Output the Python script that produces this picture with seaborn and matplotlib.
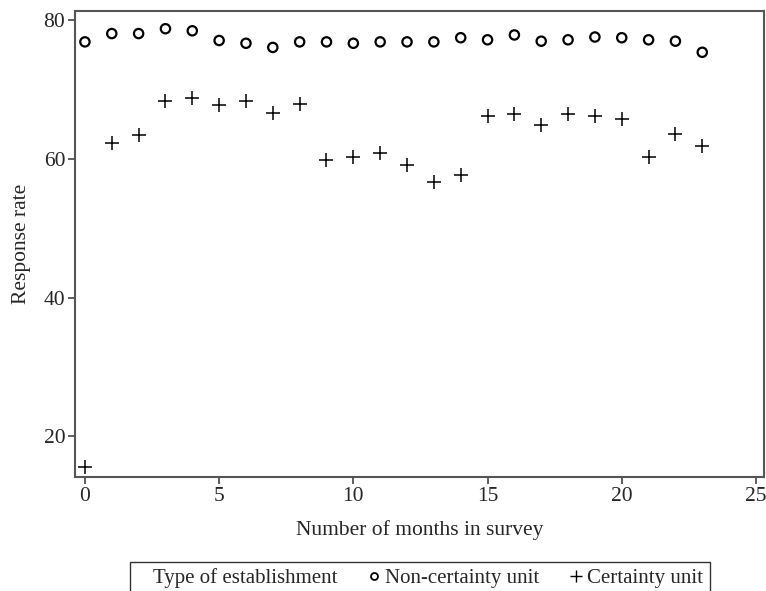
import matplotlib
matplotlib.use("Agg")
import matplotlib.pyplot as plt
from matplotlib.lines import Line2D
import pandas as pd
import seaborn as sns

months = list(range(24))
non_certainty = [76.9, 78.1, 78.1, 78.8, 78.5, 77.1, 76.7, 76.1, 76.9, 76.9, 76.7, 76.9,
                 76.9, 76.9, 77.5, 77.2, 77.9, 77.0, 77.2, 77.6, 77.5, 77.2, 77.0, 75.4]
certainty = [15.5, 62.3, 63.5, 68.3, 68.8, 67.8, 68.4, 66.6, 67.9, 59.8, 60.3, 60.9,
             59.2, 56.7, 57.7, 66.2, 66.5, 64.9, 66.5, 66.2, 65.8, 60.3, 63.6, 61.9]
x_ticks = [0, 5, 10, 15, 20, 25]
y_ticks = [20, 40, 60, 80]

df = pd.DataFrame({"month": months, "non": non_certainty, "cert": certainty})

sns.set_style("white")
plt.rcParams['font.family'] = ['Liberation Serif', 'DejaVu Serif']

fig = plt.figure(figsize=(7.66, 5.91), dpi=100)
ax = fig.add_axes([75 / 766, 1 - 477 / 591, (764 - 75) / 766, (477 - 10.7) / 591])

sns.scatterplot(data=df, x="month", y="non", ax=ax, marker="o", s=45,
                facecolors="none", edgecolor="black", linewidth=1.6)
sns.scatterplot(data=df, x="month", y="cert", ax=ax, marker="+", s=95,
                color="black", linewidth=1.1)

ax.set_xlim(-0.37, 25.3)
ax.set_ylim(14.1, 81.4)
ax.set_xticks(x_ticks)
ax.set_yticks(y_ticks)
ax.set_xlabel("Number of months in survey", fontsize=15.5, labelpad=10)
ax.set_ylabel("Response rate", fontsize=15.5, labelpad=9)
ax.tick_params(axis="both", labelsize=15.5, length=5, width=1.2, color="#444444",
               direction="out", bottom=True, left=True, pad=2)
for sp in ax.spines.values():
    sp.set_color("#555555")
    sp.set_linewidth(1.5)

handles = [Line2D([], [], linestyle="none"),
           Line2D([], [], linestyle="none", marker="o", markerfacecolor="none",
                  markeredgecolor="black", markersize=5, markeredgewidth=1.3),
           Line2D([], [], linestyle="none", marker="+", color="black",
                  markersize=8, markeredgewidth=1.0)]
labels = ["Type of establishment", "Non-certainty unit", "Certainty unit"]
leg = fig.legend(handles, labels, loc="upper left", ncol=3,
                 bbox_to_anchor=(130 / 766, 1 - 562 / 591),
                 frameon=True, fancybox=False, edgecolor="black",
                 fontsize=15, handlelength=0.5, handletextpad=0.3,
                 columnspacing=1.5, borderpad=0.3, borderaxespad=0)
leg.get_frame().set_linewidth(1.0)

fig.savefig("out.png", dpi=100)
